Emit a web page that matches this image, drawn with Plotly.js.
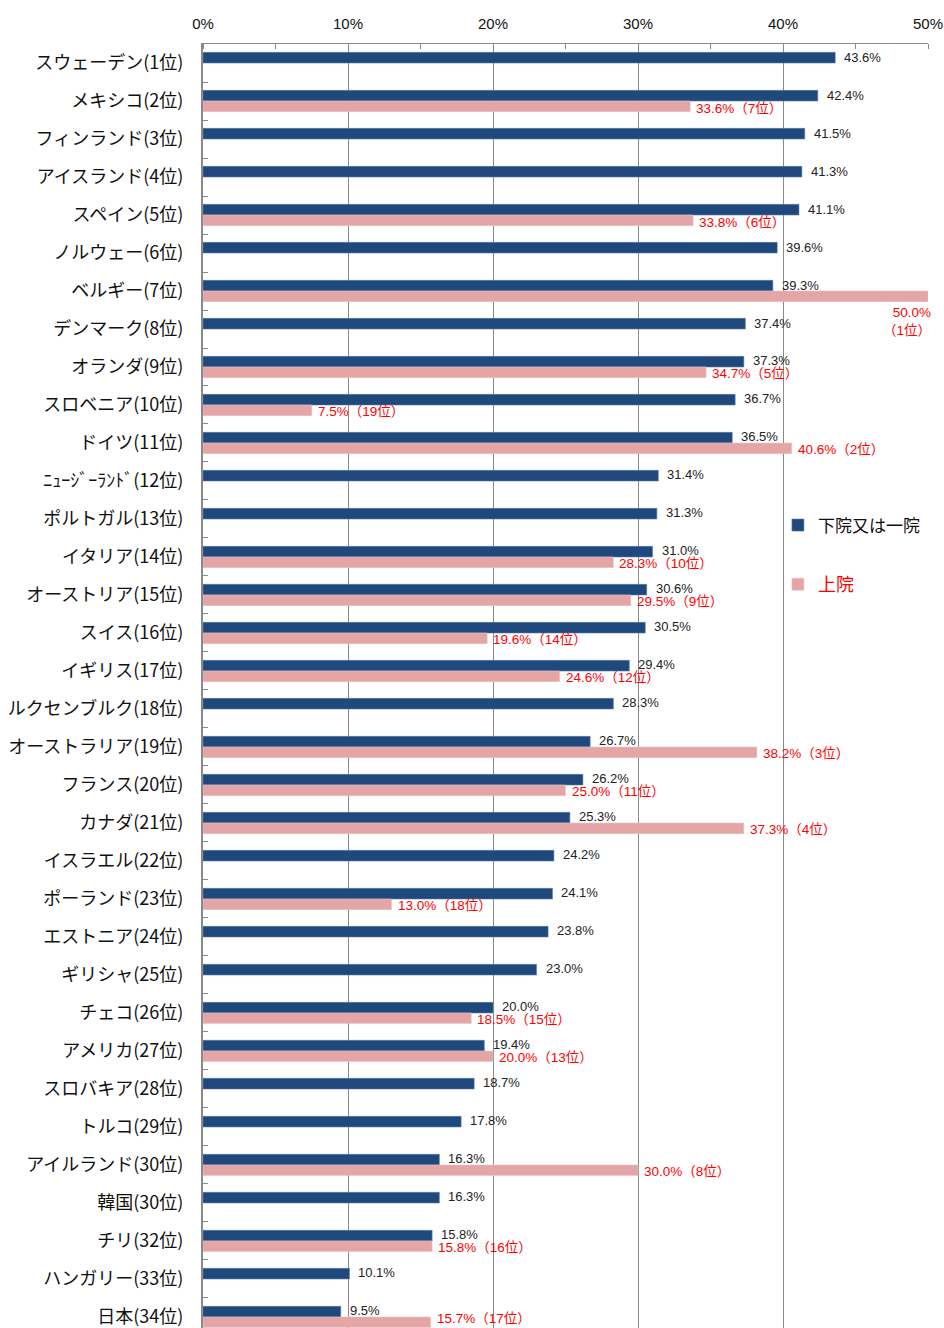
<!DOCTYPE html>
<html>
<head>
<meta charset="utf-8">
<script src="https://cdn.plot.ly/plotly-3.0.1.min.js"></script>
<style>html,body{margin:0;padding:0;background:#fff;}</style>
</head>
<body>
<div id="chart" style="width:944px;height:1328px;"></div>
<script>
const countries = ["スウェーデン(1位)","メキシコ(2位)","フィンランド(3位)","アイスランド(4位)","スペイン(5位)","ノルウェー(6位)","ベルギー(7位)","デンマーク(8位)","オランダ(9位)","スロベニア(10位)","ドイツ(11位)","ﾆｭｰｼﾞｰﾗﾝﾄﾞ(12位)","ポルトガル(13位)","イタリア(14位)","オーストリア(15位)","スイス(16位)","イギリス(17位)","ルクセンブルク(18位)","オーストラリア(19位)","フランス(20位)","カナダ(21位)","イスラエル(22位)","ポーランド(23位)","エストニア(24位)","ギリシャ(25位)","チェコ(26位)","アメリカ(27位)","スロバキア(28位)","トルコ(29位)","アイルランド(30位)","韓国(30位)","チリ(32位)","ハンガリー(33位)","日本(34位)"];
const lowerHouse = [43.6,42.4,41.5,41.3,41.1,39.6,39.3,37.4,37.3,36.7,36.5,31.4,31.3,31.0,30.6,30.5,29.4,28.3,26.7,26.2,25.3,24.2,24.1,23.8,23.0,20.0,19.4,18.7,17.8,16.3,16.3,15.8,10.1,9.5];
const upperHouse = [null,33.6,null,null,33.8,null,50.0,null,34.7,7.5,40.6,null,null,28.3,29.5,19.6,24.6,null,38.2,25.0,37.3,null,13.0,null,null,18.5,20.0,null,null,30.0,null,15.8,null,15.7];
const upperRank = [null,7,null,null,6,null,1,null,5,19,2,null,null,10,9,14,12,null,3,11,4,null,18,null,null,15,13,null,null,8,null,16,null,17];
const xTicks = [0,10,20,30,40,50];
const xTickText = ["0%","10%","20%","30%","40%","50%"];

const BLUE = "#1F497D";
const PINK = "#E3A5A5";
const FONT = "Liberation Sans, Noto Sans CJK JP, sans-serif";
const JFONT = "Noto Sans CJK JP, sans-serif";

const traces = [
  {
    type: "bar", orientation: "h", name: "下院又は一院",
    y: countries, x: lowerHouse,
    marker: {color: BLUE, line: {color: "#5a7aa6", width: 0.6}},
    legendgroup: "a", hoverinfo: "x+y"
  },
  {
    type: "bar", orientation: "h",
    name: '<span style="color:#ff0000;font-size:18px">上院</span>',
    y: countries, x: upperHouse,
    marker: {color: PINK, line: {color: "#efc4c4", width: 0.6}},
    legendgroup: "b", hoverinfo: "x+y"
  }
];

const annotations = [];
const lastIdx = countries.length - 1;
countries.forEach((c, i) => {
  const v = lowerHouse[i];
  annotations.push({
    x: v, y: c, xref: "x", yref: "y", xanchor: "left", yanchor: "middle",
    xshift: 8, yshift: 6, showarrow: false, borderpad: 0,
    text: v.toFixed(1) + "%", font: {family: FONT, size: 13, color: "#222"}
  });
  const u = upperHouse[i];
  if (u !== null) {
    const label = u.toFixed(1) + "%";
    const rank = "（" + upperRank[i] + "位）";
    if (u >= 48) {
      annotations.push({
        x: u, y: c, xref: "x", yref: "y", xanchor: "right", yanchor: "top",
        xshift: 4, yshift: -13, showarrow: false, align: "right", borderpad: 0,
        text: label + "<br>" + rank, font: {family: FONT, size: 13.5, color: "#ff0000"}
      });
    } else {
      annotations.push({
        x: u, y: c, xref: "x", yref: "y", xanchor: "left", yanchor: "middle",
        xshift: 5, yshift: i === lastIdx ? -2 : -7, showarrow: false, borderpad: 0,
        text: label + rank, font: {family: FONT, size: 13.5, color: "#ff0000"}
      });
    }
  }
});

const layout = {
  width: 944, height: 1328,
  margin: {l: 203, r: 16, t: 44, b: 0, pad: 0},
  paper_bgcolor: "#fff", plot_bgcolor: "#fff",
  barmode: "group", bargap: 0.44, bargroupgap: 0,
  showlegend: true,
  legend: {
    x: 0.793, y: 0.639, xanchor: "left", yanchor: "top",
    bgcolor: "rgba(0,0,0,0)", traceorder: "grouped", tracegroupgap: 34,
    font: {family: JFONT, size: 17, color: "#111"},
    itemwidth: 30
  },
  xaxis: {
    side: "top", range: [0, 50], tickvals: xTicks, ticktext: xTickText,
    showgrid: true, gridcolor: "#8a8a8a", gridwidth: 1,
    showline: true, linecolor: "#8a8a8a", linewidth: 1,
    zeroline: false, ticks: "", fixedrange: true,
    ticklabelstandoff: 8,
    tickfont: {family: FONT, size: 15, color: "#111"},
    minor: {dtick: 5, tick0: 0, ticks: "inside", ticklen: 5, tickcolor: "#8a8a8a", showgrid: false}
  },
  yaxis: {
    type: "category", range: [33.29, -0.5], autorange: false,
    showline: true, linecolor: "#8a8a8a", linewidth: 2,
    ticks: "inside", tickson: "boundaries", ticklen: 5, tickcolor: "#8a8a8a",
    showgrid: false, zeroline: false, fixedrange: true,
    ticklabelstandoff: 14,
    tickfont: {family: JFONT, size: 18, color: "#111"}
  },
  annotations: annotations
};

Plotly.newPlot("chart", traces, layout, {displayModeBar: false, staticPlot: true});
</script>
</body>
</html>
